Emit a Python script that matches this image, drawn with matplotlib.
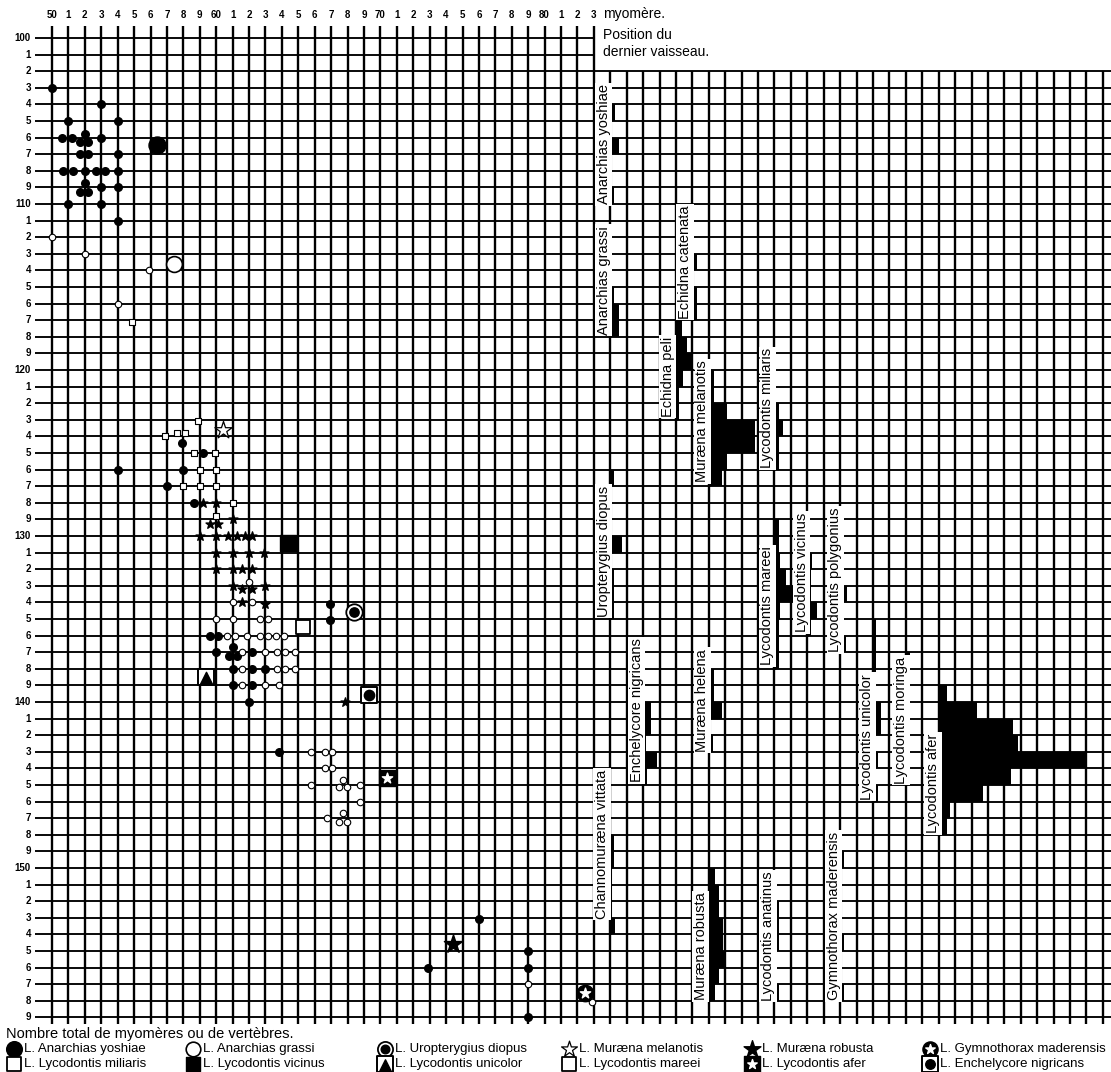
import numpy as np
import matplotlib.pyplot as plt

plt.rcParams['font.family'] = ['Liberation Sans', 'DejaVu Sans']

# scales: top = myomere of the last vessel, left = total myomeres / vertebrae
col_numbers = list(range(50, 84))
col_labels = ['50', '1', '2', '3', '4', '5', '6', '7', '8', '9',
              '60', '1', '2', '3', '4', '5', '6', '7', '8', '9',
              '70', '1', '2', '3', '4', '5', '6', '7', '8', '9',
              '80', '1', '2', '3']
row_numbers = list(range(100, 160))
row_labels = ('100 1 2 3 4 5 6 7 8 9 110 1 2 3 4 5 6 7 8 9 '
              '120 1 2 3 4 5 6 7 8 9 130 1 2 3 4 5 6 7 8 9 '
              '140 1 2 3 4 5 6 7 8 9 150 1 2 3 4 5 6 7 8 9').split()
grid_right_cols = list(range(84, 115))

# larvae (x = position of last vessel, y = total myomeres)
dot_x = [50, 53, 51, 54, 50.6, 51.2, 52, 53, 51.7, 52.2, 51.7, 52.2, 54,
         50.7, 51.25, 52, 52.65, 53.2, 54, 52, 51.7, 52.2, 53, 54, 51, 53, 54,
         57.9, 59.2, 54, 58, 57, 58.65,
         59.6, 60.1, 60, 61, 60.75, 61.25, 62.2, 61, 62.2, 63, 61, 62.2, 62,
         63.8, 66.9, 66.9, 76, 72.9, 79, 79, 79]
dot_y = [103, 104, 105, 105, 106, 106, 105.8, 106, 106.25, 106.25, 107, 107, 107,
         108, 108, 108, 108, 108, 108, 108.75, 109.25, 109.25, 109, 109, 110, 110, 111,
         124.4, 125, 126, 126, 127, 128,
         136, 136, 137, 136.7, 137.2, 137.2, 137, 138, 138, 138, 139, 139, 140,
         143, 134.1, 135.05, 153.1, 156, 155, 156, 159]

ring_x = [50, 52, 55.9, 54,
          62, 61, 62.2, 60, 61, 62.65, 63.15, 60.65, 61.15, 61.9, 62.65, 63.15,
          63.65, 64.1, 61.6, 63, 63.7, 64.2, 64.8, 61.6, 63.7, 64.2, 64.8, 61.6,
          63, 63.8, 65.8, 66.6, 67.05, 66.6, 67.05, 65.8, 67.7, 67.45, 67.95,
          68.75, 68.75, 66.75, 67.7, 67.45, 67.95, 79, 82.9]
ring_y = [112, 113, 114, 116,
          132.8, 134, 134, 135, 135, 135, 135, 136, 136, 136, 136, 136,
          136, 136, 137, 137, 137, 137, 137, 138, 138, 138, 138, 139,
          139, 139, 143, 143, 143, 144, 144, 145, 144.7, 145.15, 145.15,
          145, 146, 147, 146.7, 147.2, 147.2, 157, 158.1]

box_x = [54.9, 58.9, 56.9, 57.6, 58.1, 58.65, 59.9, 59, 60, 58, 59, 60, 61, 60]
box_y = [117.1, 123.1, 124, 123.8, 123.8, 125, 125, 126, 126, 127, 127, 127, 128, 128.8]

star_x = [59.2, 60, 59.6, 60.1, 61, 59, 60, 60.7, 61.25, 61.75, 62.2,
          60, 61, 62, 62.9, 60, 61, 61.6, 62.2, 61, 61.6, 62.2, 63, 61.6, 63, 67.85]
star_y = [128, 128, 129.3, 129.3, 129, 130, 130, 130, 130, 130, 130,
          131, 131, 131, 131, 132, 132, 132, 132, 133, 133.2, 133.2, 133, 134, 134.1, 140]

# histograms of the total number of myomeres, one per species
hist_names = ['Anarchias yoshiae', 'Anarchias grassi', 'Echidna catenata',
              'Echidna peli', 'Muræna melanotis', 'Lycodontis miliaris',
              'Uropterygius diopus', 'Lycodontis mareei', 'Lycodontis vicinus',
              'Lycodontis polygonius', 'Enchelycore nigricans', 'Muræna helena',
              'Lycodontis unicolor', 'Lycodontis moringa', 'Lycodontis afer',
              'Channomuræna vittata', 'Muræna robusta', 'Lycodontis anatinus',
              'Gymnothorax maderensis']
hist_base = [84, 84, 89, 88, 90, 94, 84, 94, 96, 98, 86, 90, 100, 102, 104,
             84, 90, 94, 98]
hist_label_x = [83.6, 83.6, 88.55, 87.5, 89.6, 93.55, 83.6, 93.55, 95.65, 97.7,
                85.6, 89.6, 99.65, 101.7, 103.65, 83.5, 89.5, 93.6, 97.6]
hist_label_y = [106.4, 114.6, 113.5, 120.4, 123.1, 122.3, 130.9, 134.2, 132.2,
                132.65, 140.5, 139.9, 142.1, 141.1, 144.9, 148.55, 154.7, 154.1, 152.9]
hist_rows = [[104, 106, 109],
             [115, 116, 117],
             [113, 115, 116],
             [117, 118, 119, 120, 121, 122],
             [120, 121, 122, 123, 124, 125, 126],
             [122, 123, 124, 125],
             [126, 130, 132, 133, 134],
             [129, 130, 131, 132, 133, 134, 135, 136, 137],
             [131, 132, 133, 134, 135],
             [133, 134, 135, 136],
             [140, 141, 142, 143, 144],
             [138, 139, 140, 141, 142],
             [135, 136, 137, 138, 139, 140, 141, 142, 143, 144, 145],
             [137, 138, 139, 140, 141, 142, 143, 144],
             [139, 140, 141, 142, 143, 144, 145, 146, 147],
             [148, 149, 153],
             [150, 151, 152, 153, 154, 155, 156, 157],
             [152, 153, 154, 157],
             [149, 154, 157]]
hist_widths = [[0.3, 0.5, 0.25],
               [0.25, 0.5, 0.5],
               [0.25, 0.25, 0.25],
               [0.37, 0.67, 1.0, 0.43, 0.2, 0.2],
               [0.3, 0.3, 1.1, 2.8, 2.8, 1.1, 0.8],
               [0.3, 0.5, 0.3, 0.3],
               [0.25, 0.7, 0.2, 0.2, 0.2],
               [0.3, 0.3, 0.35, 0.7, 1.1, 0.35, 0.3, 0.3, 0.3],
               [0.3, 0.2, 0.2, 0.6, 0.2],
               [0.4, 0.15, 0.15, 0.35],
               [0.5, 0.5, 0.15, 0.85, 0.25],
               [0.3, 0.3, 0.8, 0.1, 0.25],
               [0.2, 0.2, 0.2, 0.2, 0.2, 0.5, 0.5, 0.1, 0.3, 0.1, 0.3],
               [0.25, 0.25, 0.25, 0.25, 0.25, 0.25, 0.25, 0.25],
               [0.5, 2.35, 4.5, 4.8, 9.0, 4.4, 2.7, 0.7, 0.5],
               [0.25, 0.25, 0.3],
               [0.35, 0.65, 0.65, 0.85, 0.85, 0.97, 0.65, 0.4],
               [0.25, 0.25, 0.25, 0.25],
               [0.25, 0.25, 0.25]]

fig = plt.figure(figsize=(11.11, 10.72), dpi=100)
ax = fig.add_axes([0, 0, 1, 1])
ax.set_xlim(46.833, 114.493)
ax.set_ylim(162.289, 97.711)
ax.axis('off')

# grid
for r in row_numbers:
    ax.hlines(r, 48.96, 83 if r < 102 else 114.6, color='black', lw=1.35, zorder=1)
for c in col_numbers:
    ax.vlines(c, 99.3, 159.4, color='black', lw=1.7, zorder=1)
for c in grid_right_cols:
    ax.vlines(c, 102, 159.4, color='black', lw=1.7, zorder=1)

for c, lab in zip(col_numbers, col_labels):
    ax.text(c, 98.6, lab, ha='center', va='center', fontsize=7, fontweight='bold')
for r, lab in zip(row_numbers, row_labels):
    ax.text(48.72, r, lab, ha='right', va='center', fontsize=7, fontweight='bold')

ax.text(83.55, 98.55, 'myomère.', ha='left', va='center', fontsize=10)
ax.text(83.55, 99.8, 'Position du', ha='left', va='center', fontsize=10)
ax.text(83.55, 100.85, 'dernier vaisseau.', ha='left', va='center', fontsize=10)

# histograms
for name, base, lx, ly, rws, wds in zip(hist_names, hist_base, hist_label_x,
                                        hist_label_y, hist_rows, hist_widths):
    ax.barh(np.array(rws) + 0.5, wds, left=base, height=1.0, color='black',
            zorder=3)
    ax.vlines(base, min(rws), max(rws) + 1, color='black', lw=2.2, zorder=3)
    ax.text(lx, ly, name, rotation=90, ha='center', va='center', fontsize=10.5,
            zorder=4, bbox=dict(facecolor='white', edgecolor='none', pad=1.2))

# larvae points
ax.scatter(dot_x, dot_y, s=30, color='black', zorder=5)
ax.scatter(ring_x, ring_y, s=22, facecolor='white', edgecolor='black',
           linewidth=0.8, zorder=5)
ax.scatter(box_x, box_y, s=24, marker='s', facecolor='white', edgecolor='black',
           linewidth=0.8, zorder=5)
ax.scatter(star_x, star_y, s=45, marker='*', color='black', zorder=5)


def species_marker(x, y, kind, big=1.0):
    if kind == 'dot':
        ax.scatter(x, y, s=150 * big, color='black', zorder=6)
    elif kind == 'ring':
        ax.scatter(x, y, s=130 * big, facecolor='white', edgecolor='black',
                   linewidth=1.2, zorder=6)
    elif kind == 'openstar':
        ax.scatter(x, y, s=170 * big, marker='*', facecolor='white',
                   edgecolor='black', linewidth=0.9, zorder=6)
    elif kind == 'star':
        ax.scatter(x, y, s=190 * big, marker='*', color='black', zorder=6)
    elif kind == 'square':
        ax.scatter(x, y, s=120 * big, marker='s', color='black', zorder=6)
    elif kind == 'opensquare':
        ax.scatter(x, y, s=110 * big, marker='s', facecolor='white',
                   edgecolor='black', linewidth=1.3, zorder=6)
    elif kind == 'circledot':
        ax.scatter(x, y, s=140 * big, facecolor='white', edgecolor='black',
                   linewidth=1.3, zorder=6)
        ax.scatter(x, y, s=45 * big, color='black', zorder=7)
    elif kind == 'boxdot':
        ax.scatter(x, y, s=140 * big, marker='s', facecolor='white',
                   edgecolor='black', linewidth=1.4, zorder=6)
        ax.scatter(x, y, s=55 * big, color='black', zorder=7)
    elif kind == 'boxtri':
        ax.scatter(x, y, s=140 * big, marker='s', facecolor='white',
                   edgecolor='black', linewidth=1.4, zorder=6)
        ax.scatter(x, y + 0.05, s=80 * big, marker='^', color='black', zorder=7)
    elif kind == 'boxstar':
        ax.scatter(x, y, s=140 * big, marker='s', color='black', zorder=6)
        ax.scatter(x, y, s=60 * big, marker='*', color='white', zorder=7)
    elif kind == 'discstar':
        ax.scatter(x, y, s=140 * big, color='black', zorder=6)
        ax.scatter(x, y, s=60 * big, marker='*', color='white', zorder=7)


big_x = [56.4, 57.43, 60.4, 64.4, 65.3, 68.4, 59.4, 69.3, 70.4, 74.45, 82.45]
big_y = [106.45, 113.6, 123.6, 130.4, 135.5, 134.6, 138.5, 139.6, 144.6, 154.6, 157.5]
big_kind = ['dot', 'ring', 'openstar', 'square', 'opensquare', 'circledot',
            'boxtri', 'boxdot', 'boxstar', 'star', 'discstar']
for x, y, k in zip(big_x, big_y, big_kind):
    species_marker(x, y, k)

# legend
ax.text(47.2, 160.0, 'Nombre total de myomères ou de vertèbres.', ha='left',
        va='center', fontsize=10.5)
leg_names = ['L. Anarchias yoshiae', 'L. Anarchias grassi',
             'L. Uropterygius diopus', 'L. Muræna melanotis',
             'L. Muræna robusta', 'L. Gymnothorax maderensis',
             'L. Lycodontis miliaris', 'L. Lycodontis vicinus',
             'L. Lycodontis unicolor', 'L. Lycodontis mareei',
             'L. Lycodontis afer', 'L. Enchelycore nigricans']
leg_kind = ['dot', 'ring', 'circledot', 'openstar', 'star', 'discstar',
            'opensquare', 'square', 'boxtri', 'opensquare', 'boxstar', 'boxdot']
leg_cols = [47.69, 58.59, 70.28, 81.49, 92.63, 103.47]
for i, (name, kind) in enumerate(zip(leg_names, leg_kind)):
    lx = leg_cols[i % 6]
    ly = 160.9 if i < 6 else 161.8
    species_marker(lx, ly, kind, big=0.85)
    ax.text(lx + 0.62, ly, name, ha='left', va='center', fontsize=9.5)

plt.savefig('out.png', dpi=100)
